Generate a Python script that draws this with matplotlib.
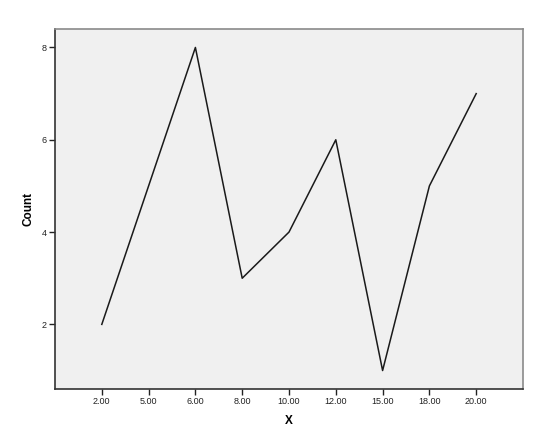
import matplotlib
matplotlib.use("Agg")
import matplotlib.pyplot as plt

categories = ["2.00", "5.00", "6.00", "8.00", "10.00", "12.00", "15.00", "18.00", "20.00"]
counts = [2, 5, 8, 3, 4, 6, 1, 5, 7]
y_ticks = [2, 4, 6, 8]

plt.rcParams['font.family'] = ['Liberation Sans', 'DejaVu Sans']

fig = plt.figure(figsize=(5.42, 4.28), dpi=100)
fig.patch.set_facecolor('white')
ax = fig.add_axes([55/542, 1 - 389/428, (523-55)/542, (389-29)/428])
ax.set_facecolor('#F0F0F0')

xs = list(range(len(categories)))
ax.plot(xs, counts, color='#1a1a1a', linewidth=1.1)

ax.set_xlim(-1, len(categories))
ax.set_ylim(0.6, 8.4)
ax.set_xticks(xs)
ax.set_xticklabels(categories)
ax.set_yticks(y_ticks)
ax.set_yticklabels([str(v) for v in y_ticks])

ax.tick_params(axis='both', direction='out', length=4, width=1.0, color='#222222',
               labelsize=6.5, labelcolor='#222222', pad=2)

for s in ['left', 'bottom']:
    ax.spines[s].set_color('#333333')
    ax.spines[s].set_linewidth(1.2)
for s in ['top', 'right']:
    ax.spines[s].set_color('#8a8a8a')
    ax.spines[s].set_linewidth(1.2)

ax.set_xlabel('X', fontsize=8.5, fontweight='bold', labelpad=6)
ax.set_ylabel('Count', fontsize=8.5, fontweight='bold', labelpad=5)

fig.savefig('out.png', dpi=100)
